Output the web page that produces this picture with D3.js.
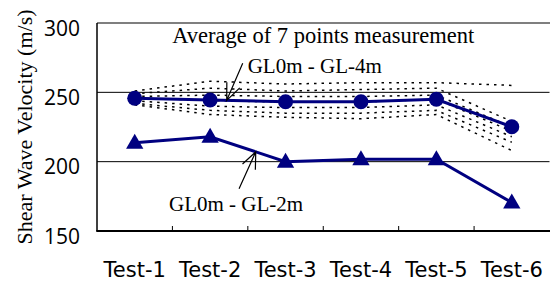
<!DOCTYPE html>
<html><head><meta charset="utf-8">
<script src="https://cdn.jsdelivr.net/npm/d3@7"></script>
<style>body{margin:0;background:#fff}svg{display:block}</style>
</head><body>
<svg id="c" width="550" height="282"></svg>
<script>
// ---- data ----
const categories = ["Test-1", "Test-2", "Test-3", "Test-4", "Test-5", "Test-6"];
const avgGL4m = [245.7, 244.5, 243.2, 243.2, 245.0, 225.2];
const avgGL2m = [213.6, 218.0, 200.0, 201.8, 201.8, 170.6];
// seven individual measurement points (GL0m - GL-4m)
const point1 = [251, 258, 256, 257, 257, 255];
const point2 = [249, 253, 251, 252, 253, 229];
const point3 = [247, 248, 247, 247, 248, 225];
const point4 = [246, 244, 243, 243, 245, 222];
const point5 = [244, 240, 239, 239, 241, 218];
const point6 = [242, 237, 235, 235, 237, 214];
const point7 = [241, 234, 232, 231, 234, 208];
const pointSeries = [point1, point2, point3, point4, point5, point6, point7];
const yTicks = [150, 200, 250, 300];
const yTitle = "Shear Wave Velocity (m/s)";
const noteTitle = "Average of 7 points measurement";
const label4m = "GL0m - GL-4m";
const label2m = "GL0m - GL-2m";

// ---- layout ----
const L = 97, R = 549.5, T = 23, B = 231;
const svg = d3.select("#c");
const x = d3.scaleBand().domain(categories).range([L, R]).padding(0);
const cx = c => x(c) + x.bandwidth() / 2;
const y = d3.scaleLinear().domain([150, 300]).range([B, T]);
const navy = "#000080";
const serif = "'Liberation Serif','Times New Roman',serif";
const sans = "'Open Sans','DejaVu Sans',sans-serif";
const sansX = "'DejaVu Sans',sans-serif";

// gridlines
svg.append("g").selectAll("line").data(yTicks.filter(v => v > 150 && v < 300)).join("line")
  .attr("x1", L).attr("x2", R).attr("y1", d => y(d)).attr("y2", d => y(d))
  .attr("stroke", "#000").attr("stroke-width", 1);

// frame
svg.append("line").attr("x1", L).attr("x2", R + 2).attr("y1", y(300)).attr("y2", y(300)).attr("stroke", "#000").attr("stroke-width", 1.2);
svg.append("line").attr("x1", L).attr("x2", L).attr("y1", y(300)).attr("y2", y(150)).attr("stroke", "#000").attr("stroke-width", 1.5);
svg.append("line").attr("x1", L - 0.75).attr("x2", R + 2).attr("y1", y(150)).attr("y2", y(150)).attr("stroke", "#000").attr("stroke-width", 2);

// x ticks at band boundaries (inward)
svg.append("g").selectAll("line").data(categories.slice(1)).join("line")
  .attr("x1", d => x(d)).attr("x2", d => x(d)).attr("y1", B).attr("y2", B - 5)
  .attr("stroke", "#000").attr("stroke-width", 1);

// y tick labels
svg.append("g").selectAll("text").data(yTicks).join("text")
  .attr("x", 80).attr("y", d => y(d)).attr("dy", "0.6em")
  .attr("text-anchor", "end").attr("font-family", sans).attr("font-size", 21)
  .attr("fill", "#000").text(d => d);

// x labels
svg.append("g").selectAll("text").data(categories).join("text")
  .attr("x", d => cx(d)).attr("y", B + 46)
  .attr("text-anchor", "middle").attr("font-family", sansX).attr("font-size", 21)
  .attr("fill", "#000").text(d => d);

// y title
svg.append("text").attr("transform", `translate(32,${(T + B) / 2}) rotate(-90)`)
  .attr("text-anchor", "middle").attr("font-family", serif).attr("font-size", 22)
  .attr("fill", "#000").text(yTitle);

// dotted individual lines
const line = d3.line().x((d, i) => cx(categories[i])).y(d => y(d));
svg.append("g").selectAll("path").data(pointSeries).join("path")
  .attr("d", line).attr("fill", "none").attr("stroke", "#000")
  .attr("stroke-width", 1.5).attr("stroke-dasharray", "2.5,5");

// average lines
svg.append("path").datum(avgGL4m).attr("d", line).attr("fill", "none")
  .attr("stroke", navy).attr("stroke-width", 3);
svg.append("path").datum(avgGL2m).attr("d", line).attr("fill", "none")
  .attr("stroke", navy).attr("stroke-width", 3);

svg.append("g").selectAll("circle").data(avgGL4m).join("circle")
  .attr("cx", (d, i) => cx(categories[i])).attr("cy", d => y(d)).attr("r", 7.5)
  .attr("fill", navy);

const tri = d3.symbol().type(d3.symbolTriangle).size(130);
svg.append("g").selectAll("path").data(avgGL2m).join("path")
  .attr("d", tri)
  .attr("transform", (d, i) => `translate(${cx(categories[i])},${y(d) + 1})`)
  .attr("fill", navy);

// annotations
function onLine(series, i, t) {
  const x0 = cx(categories[i]), x1 = cx(categories[i + 1]);
  return [x0 + t * (x1 - x0), y(series[i] + t * (series[i + 1] - series[i]))];
}
function arrow(tip, tail) {
  const ang = Math.atan2(tail[1] - tip[1], tail[0] - tip[0]);
  const len = 18, spread = 23 * Math.PI / 180;
  const b1 = [tip[0] + len * Math.cos(ang + spread), tip[1] + len * Math.sin(ang + spread)];
  const b2 = [tip[0] + len * Math.cos(ang - spread), tip[1] + len * Math.sin(ang - spread)];
  svg.append("path")
    .attr("d", `M${tail[0]},${tail[1]}L${tip[0]},${tip[1]}M${b1[0]},${b1[1]}L${tip[0]},${tip[1]}L${b2[0]},${b2[1]}`)
    .attr("fill", "none").attr("stroke", "#000").attr("stroke-width", 1.2);
}
const tip4 = onLine(avgGL4m, 1, 0.22);
const tail4 = [tip4[0] + 16, tip4[1] - 37];
arrow(tip4, tail4);
const tip2 = onLine(avgGL2m, 1, 0.605);
const tail2 = [tip2[0] - 16.7, tip2[1] + 37];
arrow(tip2, tail2);

svg.append("text").attr("x", (L + R) / 2).attr("y", y(285.6))
  .attr("text-anchor", "middle").attr("font-family", serif).attr("font-size", 22.5)
  .attr("fill", "#000").text(noteTitle);
svg.append("text").attr("x", tail4[0] + 5).attr("y", tail4[1] + 10)
  .attr("font-family", serif).attr("font-size", 21).attr("fill", "#000").text(label4m);
svg.append("text").attr("x", tail2[0] - 3).attr("y", tail2[1] + 22)
  .attr("text-anchor", "middle").attr("font-family", serif).attr("font-size", 21)
  .attr("fill", "#000").text(label2m);
</script>
</body></html>
